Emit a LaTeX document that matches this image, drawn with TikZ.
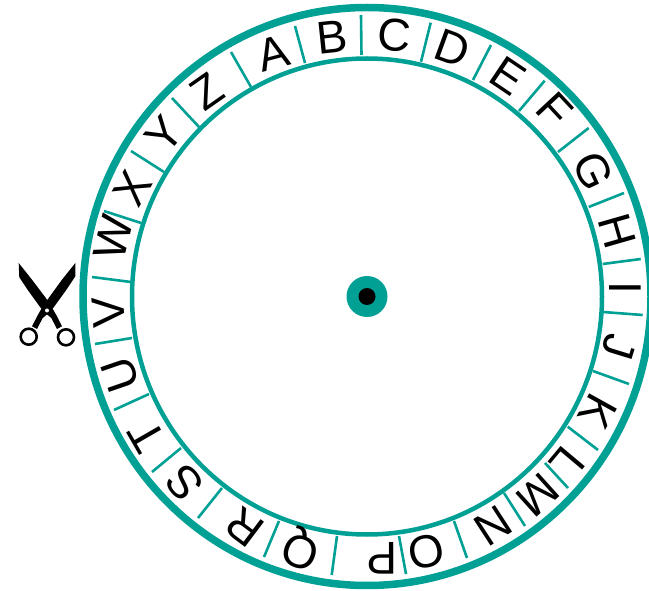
\documentclass[tikz,border=0pt]{standalone}
\usepackage{fontspec}
\setmainfont{Liberation Sans}
\definecolor{ringc}{RGB}{0,160,148}

\begin{document}
\begin{tikzpicture}[x=1pt,y=-1pt,
  outerring/.style={draw=ringc,line width=7.5pt},
  innerring/.style={draw=ringc,line width=4.5pt},
  tick/.style={draw=ringc,line width=2.6pt},
  letter/.style={inner sep=0pt,font=\fontsize{46}{46}\selectfont},
  blade/.style={fill=black,draw=none},
  grip/.style={draw=black,line width=2.6pt,fill=white}]
  \useasboundingbox (0,0) rectangle (649,591);
  \coordinate (hub) at (367,296.5);
  \draw[outerring] (hub) ellipse [x radius=284pt,y radius=289pt];
  \draw[innerring] (hub) ellipse [x radius=235pt,y radius=238pt];
  \fill[ringc] (hub) circle (20.5pt);
  \fill[black] (hub) circle (8.5pt);
  % ticks: outer end / inner end
  \foreach \xa/\ya/\xb/\yb in {361/15/361.5/55,430.7/22.7/421/61.7,491/45/473/80,544.7/80.7/519/111,
    588.7/128/558/152,624/193/588.7/207,640.7/259/602.7/264,642.7/315/603/312,
    629/384/593/371,598/450/567.7/426.7,568/488/545/463,525/526/504/493,
    467/558/454/521,406/574/399/536,331.7/575/337/536,264/557/279/521,
    198/518/222/488,152/472/181/448,114/410/149/394,95/344/132/338,
    92/277/131/282,104/211/141/223,131/151/164/172,172/98/199/127,
    231/52/251/87,295/26/305/63}
    \draw[tick] (\xa,\ya) -- (\xb,\yb);
  % letters
  \foreach \ch/\xa/\ya/\ang in {A/273/53/15,B/332/37/6,C/394/35/-5,D/453/48/-20,E/508/76/-34,
    F/555/110/-47,G/593/171/-65,H/617/231/-74,I/625/288/-90,J/619/347/-107,
    K/598/412/-119,L/567/463/-130,M/538/495/-138,N/493/526/-147,O/426/552/-168,
    P/382/558/180,Q/302/548/160,R/245/527/143,S/185/483/130,T/147/436/120,
    U/120/375/109,V/109/312/94,W/113/238/76,X/132/188/60,Y/164/135/50,Z/207/91/35}
    \node[letter,rotate=\ang] (l\ch) at (\xa,\ya) {\ch};
  % scissors
  \draw[grip] (66,337.3) circle (8pt);
  \draw[grip] (28.7,336.7) circle (8pt);
  \fill[blade] (18.7,263) -- (32,279.7) -- (45.3,297.3) -- (50.3,304.7) -- (57,316.3) -- (62,326.3) -- (57,329)
    -- (51.3,318) -- (45.3,313) -- (40.3,307.3) -- (28.7,291.3) -- (19.3,277.3) -- cycle;
  \fill[blade] (75.3,263) -- (62,279.7) -- (48.7,298) -- (43.7,304.7) -- (38,314.7) -- (32,326.3) -- (37,329)
    -- (42.7,318) -- (48.7,313) -- (53.7,307.3) -- (65.3,291.3) -- (75.3,276.3) -- cycle;
  \fill[white] (47,310.5) circle (2pt);
\end{tikzpicture}
\end{document}
